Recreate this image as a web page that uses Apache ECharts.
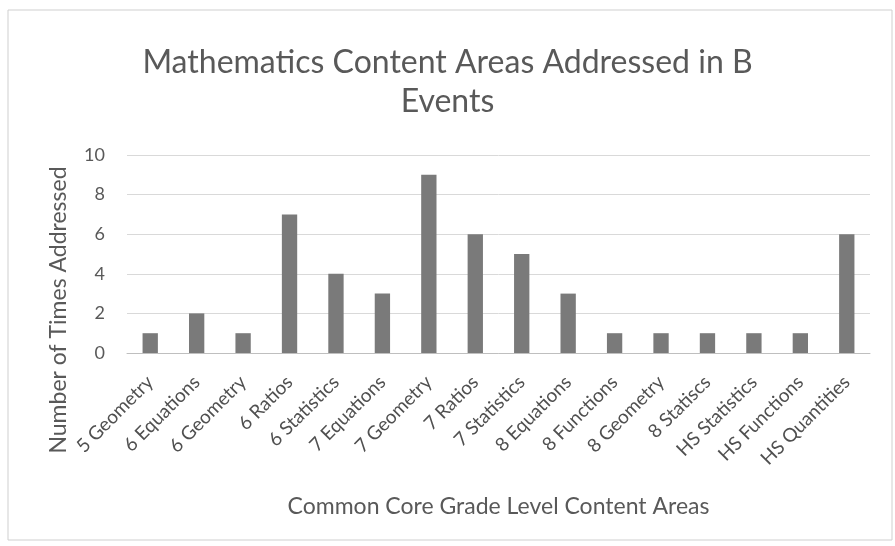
<!DOCTYPE html>
<html><head><meta charset="utf-8">
<script src="https://cdn.jsdelivr.net/npm/echarts@6/dist/echarts.min.js"></script>
<style>html,body{margin:0;padding:0;background:#fff}#c{width:895px;height:546px}</style>
</head><body><div id="c"></div>
<script>
const categories = ["5 Geometry","6 Equations","6 Geometry","6 Ratios","6 Statistics","7 Equations","7 Geometry","7 Ratios","7 Statistics","8 Equations","8 Functions","8 Geometry","8 Statiscs","HS Statistics","HS Functions","HS Quantities"];
const values = [1,2,1,7,4,3,9,6,5,3,1,1,1,1,1,6];
const yTicks = [0,2,4,6,8,10];
const titleText = "Mathematics Content Areas Addressed in B\nEvents";
const xName = "Common Core Grade Level Content Areas";
const yName = "Number of Times Addressed";

const font = "Lato,'Open Sans',sans-serif";
const chart = echarts.init(document.getElementById('c'));
chart.setOption({
  animation:false,
  textStyle:{fontFamily:font},
  graphic:[{type:'rect',shape:{x:8,y:10,width:884,height:530},style:{fill:'none',stroke:'#cfcfcf',lineWidth:1}}],
  title:{text:titleText,left:'center',top:38,textStyle:{fontFamily:font,fontSize:32,fontWeight:'normal',color:'#595959',lineHeight:39}},
  grid:{left:127,right:25,top:155,bottom:193},
  xAxis:{type:'category',data:categories,name:xName,nameLocation:'middle',nameGap:142,
    nameTextStyle:{fontFamily:font,fontSize:23,color:'#595959'},
    axisLine:{lineStyle:{color:'#bfbfbf'}},axisTick:{show:false},
    axisLabel:{rotate:45,interval:0,fontSize:19,color:'#505050',fontFamily:font,margin:26}},
  yAxis:{type:'value',min:yTicks[0],max:yTicks[yTicks.length-1],interval:2,name:yName,nameLocation:'middle',nameGap:57,
    nameTextStyle:{fontFamily:font,fontSize:23,color:'#595959',padding:[0,112,0,0]},
    axisLabel:{fontSize:18,color:'#595959',margin:22},
    splitLine:{lineStyle:{color:'#d9d9d9'}}},
  series:[{type:'bar',data:values,barWidth:'33%',itemStyle:{color:'#7a7a7a'}}]
});
</script></body></html>
